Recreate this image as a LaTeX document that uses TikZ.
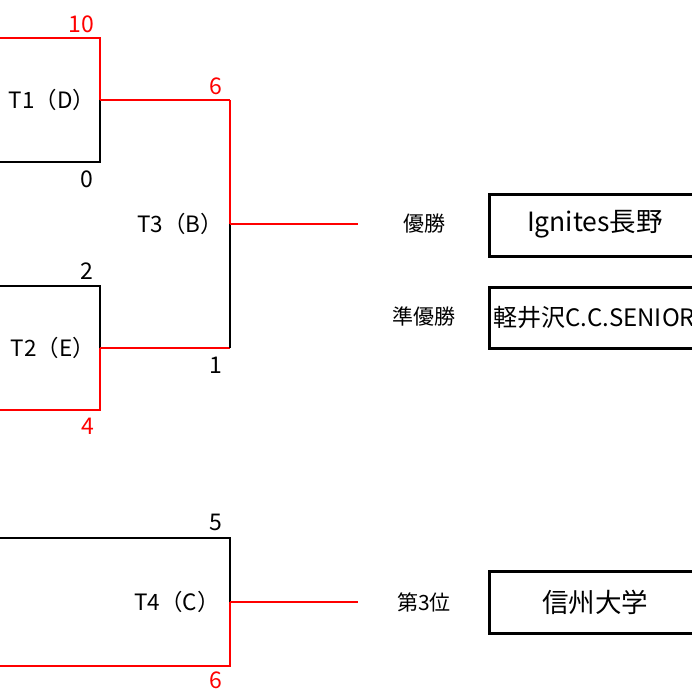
\documentclass[tikz,border=0pt]{standalone}
\usepackage{fontspec}
\setmainfont{Noto Sans CJK JP}
\definecolor{win}{RGB}{255,0,0}
\begin{document}
\begin{tikzpicture}[x=1pt,y=-1pt,
  lose/.style={draw=black,line width=1.5pt},
  wline/.style={draw=win,line width=1.5pt},
  score/.style={font=\fontsize{23}{23}\selectfont,inner sep=0pt},
  wscore/.style={score,text=win},
  match/.style={font=\fontsize{22.5}{22.5}\selectfont,inner sep=0pt},
  rank/.style={font=\fontsize{21}{21}\selectfont,inner sep=0pt},
  resbox/.style={draw=black,line width=3pt},
  team/.style={font=\fontsize{26.5}{26.5}\selectfont,inner sep=0pt}]
\useasboundingbox (0,0) rectangle (692,688);
\clip (0,0) rectangle (692,688);
% coordinates
\coordinate (t1a) at (0,38);  \coordinate (t1b) at (100,38);
\coordinate (t1m) at (100,100);
\coordinate (t1c) at (100,162); \coordinate (t1d) at (0,162);
\coordinate (t3a) at (230,100); \coordinate (t3m) at (230,224);
\coordinate (t3b) at (230,348); \coordinate (t3e) at (358,224);
\coordinate (t2a) at (0,286);  \coordinate (t2b) at (100,286);
\coordinate (t2m) at (100,348);
\coordinate (t2c) at (100,410); \coordinate (t2d) at (0,410);
\coordinate (t4a) at (0,538);  \coordinate (t4b) at (230,538);
\coordinate (t4m) at (230,602);
\coordinate (t4c) at (230,666); \coordinate (t4d) at (0,666);
\coordinate (t4e) at (358,602);
% T1
\draw[wline] (t1a) -- (t1b) -- (t1m);
\draw[lose] (t1m) -- (t1c) -- (t1d);
\draw[wline] (t1m) -- (t3a);
% T2
\draw[lose] (t2a) -- (t2b) -- (t2m);
\draw[wline] (t2m) -- (t2c) -- (t2d);
\draw[wline] (t2m) -- (t3b);
% T3
\draw[wline] (t3a) -- (t3m);
\draw[lose] (t3m) -- (t3b);
\draw[wline] (t3m) -- (t3e);
% T4
\draw[lose] (t4a) -- (t4b) -- (t4m);
\draw[wline] (t4m) -- (t4c) -- (t4d);
\draw[wline] (t4m) -- (t4e);
% match labels
\node[match] (m1) at (52,100) {T1（D）};
\node[match] (m2) at (53,348) {T2（E）};
\node[match] (m3) at (180,224) {T3（B）};
\node[match] (m4) at (177,602) {T4（C）};
% scores
\node[wscore] (s1a) at (81,24) {10};
\node[score] (s1b) at (87,179) {0};
\node[wscore] (s3a) at (216,86) {6};
\node[score] (s3b) at (216,365) {1};
\node[score] (s2a) at (87,271) {2};
\node[wscore] (s2b) at (88,426) {4};
\node[score] (s4a) at (216,522) {5};
\node[wscore] (s4b) at (216,680) {6};
% ranks
\node[rank] (r1) at (424,224) {優勝};
\node[rank] (r2) at (424,317) {準優勝};
\node[rank] (r3) at (424,602) {第3位};
% result boxes
\draw[resbox] (489,194) rectangle (760,256);
\draw[resbox] (489,287) rectangle (760,348);
\draw[resbox] (489,571) rectangle (760,633);
\node[team] (w1) at (595,224) {Ignites長野};
\node[team,anchor=west,font=\fontsize{24}{24}\selectfont] (w2) at (493,317) {軽井沢C.C.SENIOR};
\node[team] (w3) at (595,602) {信州大学};
\end{tikzpicture}
\end{document}
